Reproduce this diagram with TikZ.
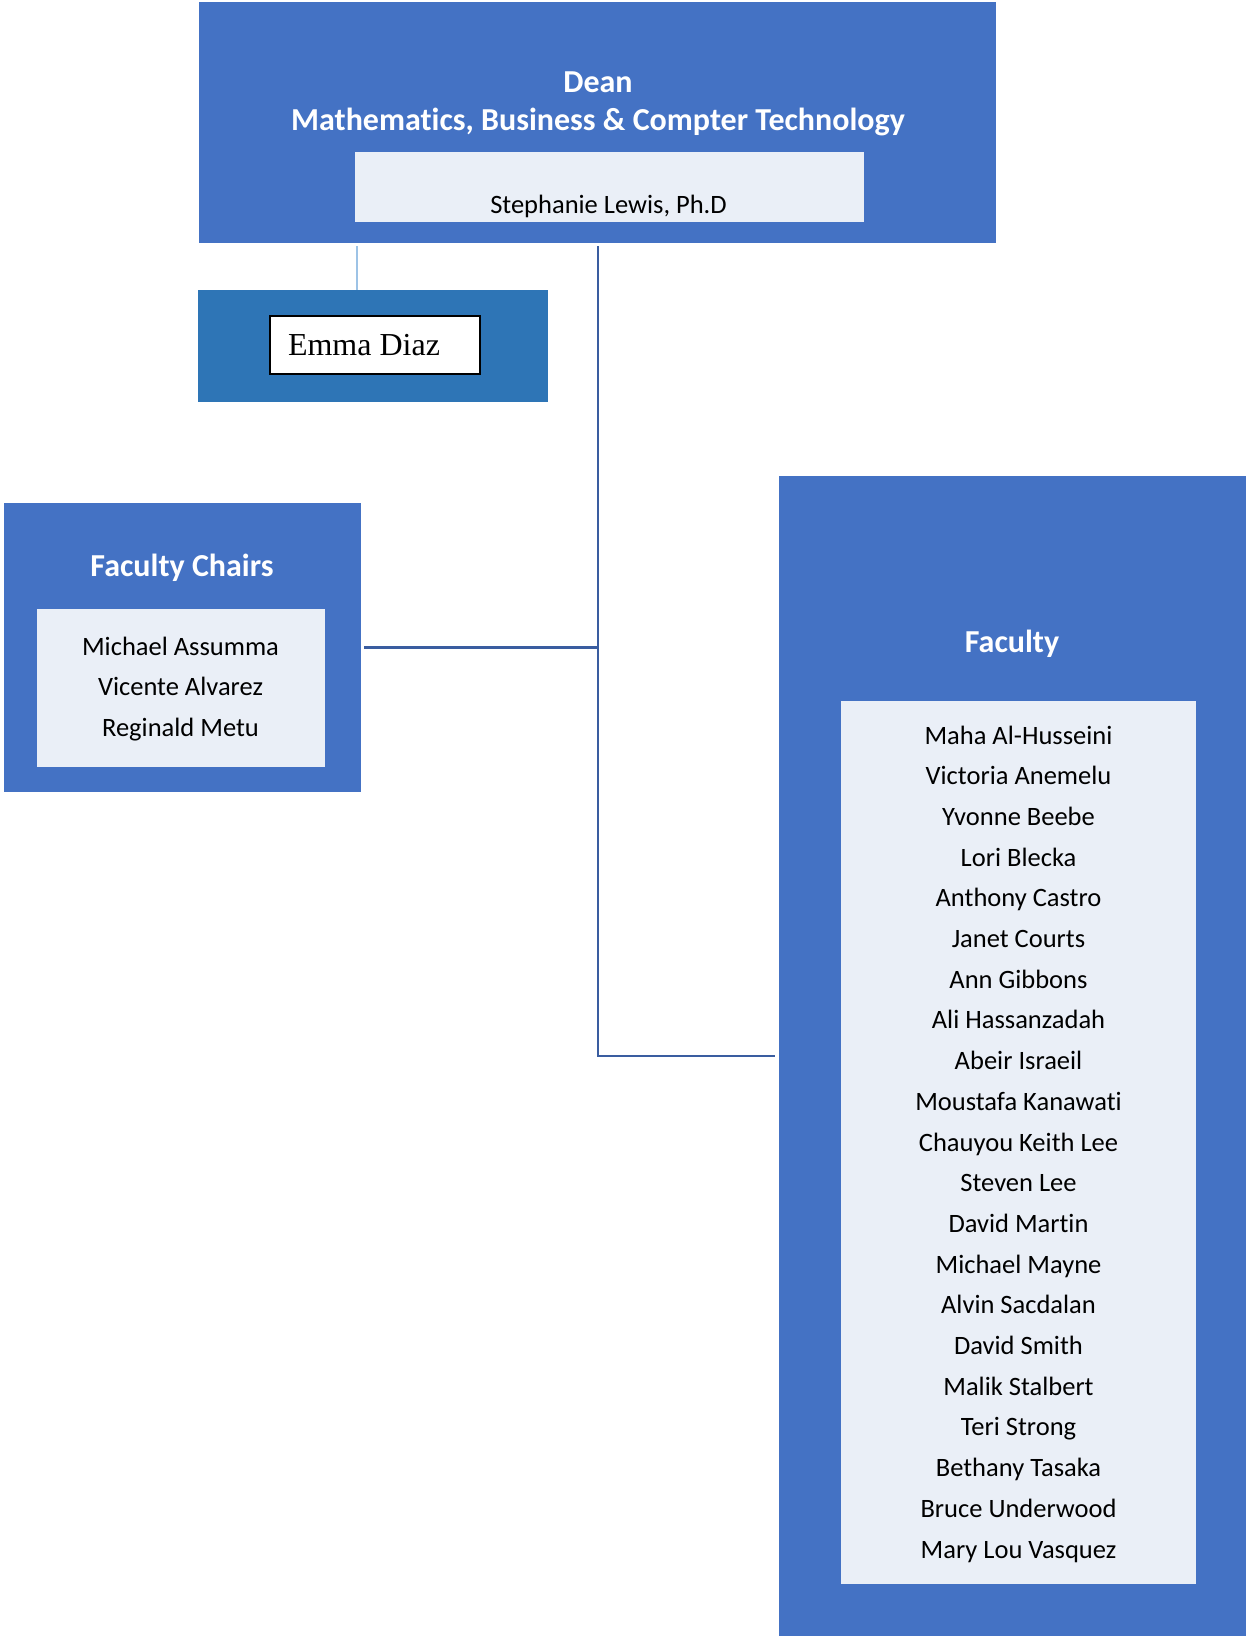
\documentclass[tikz,border=0pt]{standalone}
\usepackage{fontspec}
\setmainfont{Carlito}[Ligatures=NoCommon]
\newfontfamily\timesfont{Liberation Serif}
\usetikzlibrary{positioning}

\definecolor{boxblue}{HTML}{4472C4}
\definecolor{emmablue}{HTML}{2E75B6}
\definecolor{paleblue}{HTML}{EAEFF7}
\definecolor{linkblue}{HTML}{3A5DA0}
\definecolor{lightlink}{HTML}{9DC3E6}

\begin{document}
\begin{tikzpicture}[x=1pt,y=-1pt,
    outerbox/.style={fill=boxblue,inner sep=0pt,anchor=north west},
    innerbox/.style={fill=paleblue,inner sep=0pt,anchor=north west},
    titletext/.style={text=white,font=\fontsize{32}{34}\selectfont\bfseries,align=center},
    nametext/.style={text=black,font=\fontsize{26.5}{40.7}\selectfont,align=center},
    link/.style={draw=linkblue,line width=2.5pt}]
    \useasboundingbox (0,0) rectangle (1246,1636);
    % dean
    \node[outerbox,minimum width=797,minimum height=241] (dean) at (199,2) {};
    \node[innerbox,minimum width=509,minimum height=70] (deanin) at (355,152) {};
    \node[titletext] (deantitle) at (598,104) {Dean\\[4.5pt]Mathematics, Business \& Compter Technology};
    \node[nametext] (deanname) at (608.5,206) {Stephanie Lewis, Ph.D};
    % assistant
    \node[fill=emmablue,inner sep=0pt,anchor=north west,minimum width=350,minimum height=112] (emma) at (198,290) {};
    \node[draw=black,line width=1.5pt,fill=white,inner sep=0pt,anchor=north west,minimum width=210,minimum height=58] (emmain) at (269,315) {};
    \node[font=\timesfont\fontsize{32}{36}\selectfont] (emmaname) at (364,345) {Emma Diaz};
    % chairs
    \node[outerbox,minimum width=357,minimum height=289] (chairs) at (4,503) {};
    \node[innerbox,minimum width=288,minimum height=158] (chairsin) at (37,609) {};
    \node[titletext] (chairstitle) at (182,568) {Faculty Chairs};
    \node[nametext] (chairsnames) at (180.5,689) {Michael Assumma\\Vicente Alvarez\\Reginald Metu};
    % faculty
    \node[outerbox,minimum width=467,minimum height=1160] (faculty) at (779,476) {};
    \node[innerbox,minimum width=355,minimum height=883] (facultyin) at (841,701) {};
    \node[titletext] (facultytitle) at (1012,644) {Faculty};
    \node[nametext] (facultynames) at (1018.5,1144) {Maha Al-Husseini\\Victoria Anemelu\\Yvonne Beebe\\Lori Blecka\\Anthony Castro\\Janet Courts\\Ann Gibbons\\Ali Hassanzadah\\Abeir Israeil\\Moustafa Kanawati\\Chauyou Keith Lee\\Steven Lee\\David Martin\\Michael Mayne\\Alvin Sacdalan\\David Smith\\Malik Stalbert\\Teri Strong\\Bethany Tasaka\\Bruce Underwood\\Mary Lou Vasquez};
    % connectors
    \coordinate (emmatop) at (357,246);
    \coordinate (trunk) at (598,246);
    \draw[draw=lightlink,line width=1.5pt] (emmatop) -- (emmatop |- emma.north);
    \draw[link] (trunk) |- ([xshift=-4pt]faculty.west);
    \draw[link] ([xshift=3pt]chairs.east) -- (trunk |- chairs.east);
\end{tikzpicture}
\end{document}
